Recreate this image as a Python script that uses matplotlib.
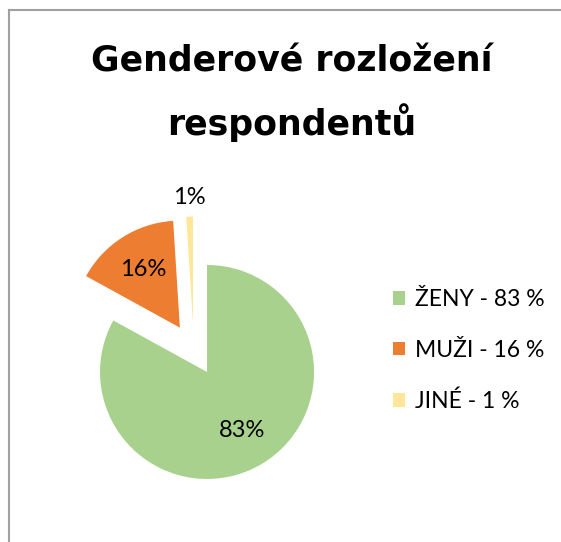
import matplotlib.pyplot as plt
from matplotlib.lines import Line2D
from matplotlib.patches import Patch
import numpy as np

# data
categories = ['ŽENY', 'MUŽI', 'JINÉ']
shares = [83, 16, 1]
colors = ['#A9D18E', '#ED7D31', '#FFE699']
title_lines = ['Genderové rozložení', 'respondentů']

plt.rcParams['font.family'] = ['Lato', 'DejaVu Sans']

W, H = 561, 542
fig = plt.figure(figsize=(W / 100, H / 100), dpi=100)

# axes in pixel units (y up)
ax = fig.add_axes([0, 0, 1, 1])
radius = 107
cx, cy = 193.8, H - 349.6
wedges, texts, autotexts = ax.pie(
    shares, colors=colors, startangle=90, counterclock=False,
    explode=[26] * 3, radius=radius, center=(cx, cy),
    autopct='%1.0f%%', pctdistance=0.64,
    textprops={'fontsize': 17, 'color': 'black'},
    wedgeprops={'linewidth': 0},
)
# small slice label goes outside
w = wedges[2]
mid = np.deg2rad((w.theta1 + w.theta2) / 2)
x0, y0 = w.center
autotexts[2].set_position((x0 + 1.18 * radius * np.cos(mid), y0 + 1.18 * radius * np.sin(mid)))

ax.set_xlim(0, W)
ax.set_ylim(0, H)
ax.set_aspect('equal')
ax.axis('off')

# title
for line, base in zip(title_lines, [71, 135]):
    fig.text(292 / W, 1 - base / H, line, ha='center', va='baseline',
             fontsize=25, fontweight='bold', family='DejaVu Sans')

# legend
handles = [Patch(facecolor=c, edgecolor='none') for c in colors]
labels = [f'{c} - {v} %' for c, v in zip(categories, shares)]
fig.legend(handles, labels, loc='center left', bbox_to_anchor=(393 / W, 1 - 350.5 / H),
           frameon=False, fontsize=16.5, handlelength=0.54, handleheight=0.54,
           handletextpad=0.4, labelspacing=1.29, borderpad=0, borderaxespad=0)

# chart area border (partly cropped)
fig.add_artist(Line2D([8.5 / W, 1], [1 - 9.5 / H, 1 - 9.5 / H], color='#A0A0A0', lw=1.5))
fig.add_artist(Line2D([8.5 / W, 8.5 / W], [0, 1 - 9.5 / H], color='#A0A0A0', lw=1.5))

fig.savefig('out.png', dpi=100)
